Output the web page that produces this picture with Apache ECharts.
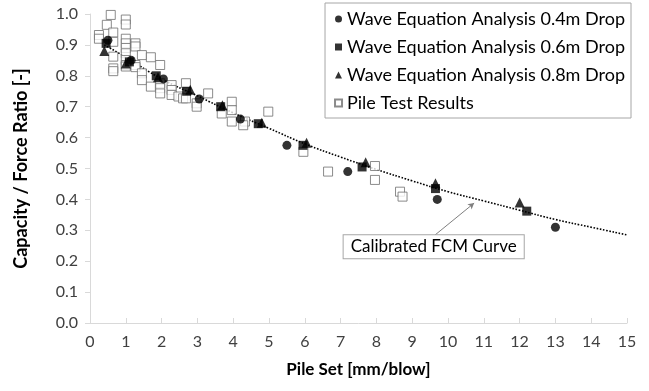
<!DOCTYPE html>
<html>
<head>
<meta charset="utf-8">
<script src="https://cdn.jsdelivr.net/npm/echarts@6/dist/echarts.min.js"></script>
<style>html,body{margin:0;padding:0;background:#fff;}#c{width:649px;height:391px;}</style>
</head>
<body>
<div id="c"></div>
<script>
const xTicks = [0,1,2,3,4,5,6,7,8,9,10,11,12,13,14,15];
const yTicks = [0.0,0.1,0.2,0.3,0.4,0.5,0.6,0.7,0.8,0.9,1.0];

const wave04 = [[0.5,0.915],[1.15,0.85],[2.05,0.79],[3.05,0.725],[4.2,0.66],[5.5,0.575],[7.2,0.49],[9.7,0.4],[13.0,0.31]];
const wave06 = [[0.45,0.905],[1.1,0.845],[1.85,0.8],[2.7,0.75],[3.65,0.7],[4.7,0.645],[5.95,0.575],[7.6,0.505],[9.65,0.435],[12.2,0.362]];
const wave08 = [[0.4,0.88],[1.0,0.84],[1.9,0.795],[2.8,0.755],[3.7,0.705],[4.8,0.648],[6.05,0.583],[7.7,0.52],[9.65,0.452],[12.0,0.39]];
const pileTests = [
  [0.25,0.932],[0.25,0.92],[0.47,0.965],[0.58,0.997],
  [0.65,0.94],[0.65,0.91],[0.65,0.862],[0.65,0.824],[0.65,0.815],
  [1.0,0.982],[1.0,0.966],[1.0,0.92],[1.0,0.905],[1.0,0.89],[1.0,0.873],[1.0,0.851],[1.0,0.835],[1.0,0.83],
  [1.27,0.905],[1.27,0.895],[1.27,0.835],[1.27,0.828],
  [1.45,0.867],[1.45,0.808],[1.45,0.786],
  [1.7,0.86],[1.7,0.765],
  [1.96,0.835],[1.96,0.776],[1.96,0.76],[1.96,0.743],
  [2.28,0.77],[2.28,0.754],[2.28,0.738],
  [2.47,0.733],[2.6,0.727],[2.68,0.776],[2.68,0.727],
  [2.98,0.711],[2.98,0.70],[3.3,0.743],[3.68,0.678],
  [3.96,0.716],[3.96,0.689],[3.96,0.652],[4.33,0.652],[4.28,0.64],
  [4.98,0.684],[5.96,0.554],[6.65,0.49],[7.96,0.508],[7.96,0.463],
  [8.66,0.425],[8.73,0.409]
];
const fcmCurve = [[0.4,0.9],[1,0.86],[2,0.79],[3,0.735],[4,0.68],[5,0.63],[6,0.58],[7,0.537],[8,0.497],[9,0.46],[10,0.425],[11,0.395],[12,0.365],[13,0.335],[14,0.31],[15,0.285]];

const FONT = 'Lato';
const chart = echarts.init(document.getElementById('c'));
chart.setOption({
  animation: false,
  backgroundColor: '#fff',
  textStyle: {fontFamily: FONT},
  grid: {left: 90, right: 22, top: 14, bottom: 68, containLabel: false},
  xAxis: {
    type: 'value', min: 0, max: 15, interval: 1,
    name: 'Pile Set [mm/blow]', nameLocation: 'middle', nameGap: 38,
    nameTextStyle: {fontFamily: FONT, fontSize: 17, fontWeight: 'bold', color: '#000'},
    axisLine: {show: true, lineStyle: {color: '#d9d9d9', width: 1}},
    axisTick: {show: true, inside: true, length: 5, lineStyle: {color: '#d9d9d9'}},
    splitLine: {show: false},
    axisLabel: {fontFamily: FONT, fontSize: 16, color: '#404040', margin: 11,
      formatter: v => xTicks.includes(v) ? String(v) : ''}
  },
  yAxis: {
    type: 'value', min: 0, max: 1.0, interval: 0.1,
    name: 'Capacity / Force Ratio [-]', nameLocation: 'middle', nameGap: 60,
    nameTextStyle: {fontFamily: FONT, fontSize: 18, fontWeight: 'bold', color: '#000'},
    axisLine: {show: true, lineStyle: {color: '#d9d9d9', width: 1}},
    axisTick: {show: true, inside: false, length: 5, lineStyle: {color: '#d9d9d9'}},
    splitLine: {show: false},
    axisLabel: {fontFamily: FONT, fontSize: 16, color: '#404040', margin: 12,
      formatter: v => { const t = yTicks.find(k => Math.abs(k - v) < 1e-6); return t === undefined ? '' : t.toFixed(1); }}
  },
  legend: {
    orient: 'vertical', right: 18, top: 3,
    padding: [6, 6, 5, 9],
    borderColor: '#a6a6a6', borderWidth: 1, backgroundColor: '#fff',
    itemWidth: 7, itemHeight: 7, itemGap: 8,
    textStyle: {fontFamily: FONT, fontSize: 18, color: '#000', lineHeight: 20},
    data: [
      {name: 'Wave Equation Analysis 0.4m Drop', icon: 'circle'},
      {name: 'Wave Equation Analysis 0.6m Drop', icon: 'rect'},
      {name: 'Wave Equation Analysis 0.8m Drop', icon: 'triangle'},
      {name: 'Pile Test Results', icon: 'rect'}
    ]
  },
  series: [
    {
      name: 'Calibrated FCM Curve', type: 'line', data: fcmCurve, smooth: true, showSymbol: false, symbol: 'none',
      lineStyle: {color: '#000', width: 1.6, type: [1.6, 1.6]}, z: 1,
      markLine: {
        silent: true, symbol: ['none', 'arrow'], symbolSize: [5, 6],
        lineStyle: {color: '#7f7f7f', width: 1, type: 'solid'},
        label: {show: false},
        data: [[{coord: [9.64, 0.285]}, {coord: [10.73, 0.388]}]]
      },
      markPoint: {
        silent: true, symbol: 'rect', symbolSize: 1, itemStyle: {color: 'rgba(0,0,0,0)'},
        label: {show: true, position: 'inside', formatter: 'Calibrated FCM Curve', fontFamily: FONT, fontSize: 17, color: '#000',
          backgroundColor: '#fff', borderColor: '#a6a6a6', borderWidth: 1, padding: [3, 7, 3, 7]},
        data: [{coord: [9.6, 0.247]}]
      }
    },
    {name: 'Pile Test Results', type: 'scatter', data: pileTests, symbol: 'rect', symbolSize: 9,
      itemStyle: {color: '#fff', borderColor: '#6e6e6e', borderWidth: 1}, z: 2},
    {name: 'Wave Equation Analysis 0.4m Drop', type: 'scatter', data: wave04, symbol: 'circle', symbolSize: 9,
      itemStyle: {color: '#000'}, z: 3},
    {name: 'Wave Equation Analysis 0.6m Drop', type: 'scatter', data: wave06, symbol: 'rect', symbolSize: 9,
      itemStyle: {color: '#000'}, z: 3},
    {name: 'Wave Equation Analysis 0.8m Drop', type: 'scatter', data: wave08, symbol: 'triangle', symbolSize: 10,
      itemStyle: {color: '#000'}, z: 3}
  ]
});
</script>
</body>
</html>
